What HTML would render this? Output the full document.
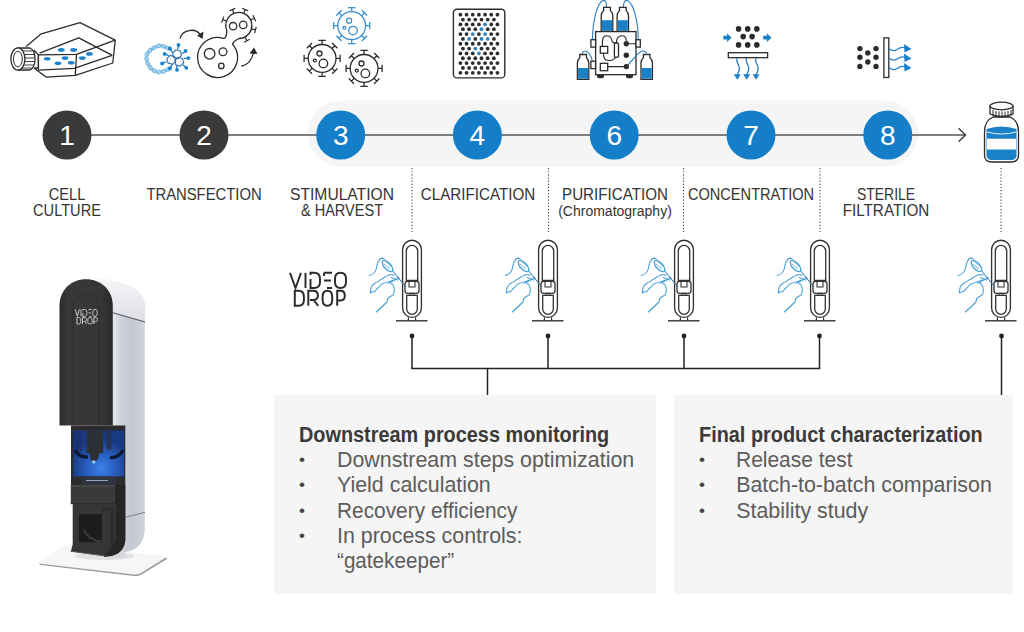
<!DOCTYPE html>
<html><head><meta charset="utf-8">
<style>
html,body{margin:0;padding:0;background:#fff;}
body{width:1024px;height:632px;position:relative;overflow:hidden;font-family:"Liberation Sans",sans-serif;}
.l1{position:absolute;color:#333;font-size:16.4px;line-height:20px;text-align:center;white-space:nowrap;transform-origin:50% 0;}
.box{position:absolute;background:#f5f5f5;}
.hd{position:absolute;font-size:21.6px;font-weight:bold;color:#3a3a3a;white-space:nowrap;line-height:25px;transform:scaleX(0.92);transform-origin:0 0;}
.it{position:absolute;margin-top:1.2px;margin-left:1.2px;font-size:21.4px;color:#5c5c5c;white-space:nowrap;line-height:25px;}
.bu{position:absolute;font-size:17px;color:#444;line-height:25px;}
svg{position:absolute;left:0;top:0;}
</style></head><body>
<svg width="1024" height="632" viewBox="0 0 1024 632">

  <!-- device photo -->
  <defs>
    <linearGradient id="sideG" x1="113" y1="0" x2="146" y2="0" gradientUnits="userSpaceOnUse">
      <stop offset="0" stop-color="#e6e8ec"/>
      <stop offset="0.18" stop-color="#d2d4dc"/>
      <stop offset="0.55" stop-color="#c5c7d2"/>
      <stop offset="0.9" stop-color="#ced0d9"/>
      <stop offset="1" stop-color="#dfe1e6"/>
    </linearGradient>
    <linearGradient id="topG" x1="0" y1="278" x2="0" y2="320" gradientUnits="userSpaceOnUse">
      <stop offset="0" stop-color="#f6f6f8"/>
      <stop offset="1" stop-color="#dfe0e6"/>
    </linearGradient>
    <radialGradient id="blueG" cx="101" cy="468" r="30" gradientUnits="userSpaceOnUse">
      <stop offset="0" stop-color="#3c82ea"/>
      <stop offset="0.45" stop-color="#2a60c4"/>
      <stop offset="1" stop-color="#173a82"/>
    </radialGradient>
    <linearGradient id="panelG" x1="60" y1="0" x2="112" y2="0" gradientUnits="userSpaceOnUse">
      <stop offset="0" stop-color="#2c2c2c"/>
      <stop offset="0.15" stop-color="#383838"/>
      <stop offset="0.8" stop-color="#363636"/>
      <stop offset="1" stop-color="#2a2a2a"/>
    </linearGradient>
  </defs>
  <g id="device">
    <!-- base plate -->
    <path d="M40,561 Q37.5,562.5 40.5,563.8 L134,574.5 Q138,575 141,573.2 L165,558.5 Q168,556.5 164.5,556 L72,545 Q68,544.5 65,546 Z" fill="#f6f6f7"/>
    <path d="M38.5,562.5 L40.5,565 L134,576 Q138,576.5 141,574.8 L167,559 L166,557.5 L141,573 Q138,574.8 134,574.5 L40.5,563.8 Z" fill="#9a9a9e"/>
    <ellipse cx="105" cy="556" rx="30" ry="4" fill="#e2e2e5"/>
    <rect x="108.5" y="548" width="17" height="10" fill="#d7d8dc"/>
    <!-- white side body -->
    <path d="M92,278 C108,278.5 126,283 136,289.5 C142,294 145,300 145,308 L145,528 C145,542 137,551 125,552 L100,553 L100,278 Z" fill="url(#sideG)"/>
    <path d="M92,278 C108,278.5 126,283 136,289.5 C142,294 145,300 145,308 L145,321.5 L113,312.5 L100,312 L100,278 Z" fill="url(#topG)"/>
    <path d="M113,312.8 L145,322" stroke="#5a5c63" stroke-width="1.1"/>
    <path d="M124.5,517.5 L145,512.3" stroke="#80828a" stroke-width="1"/>
    <!-- black front panel -->
    <path d="M59.5,425.5 L59.5,306 C59.5,290 71,279.3 86,279.3 C101,279.3 112.8,290 112.8,306 L112.8,425.5 Z" fill="url(#panelG)"/>
    <path d="M73,425 L73,308 C73,300 79,294 86,294 C93,294 99,300 99,308 L99,425" fill="none" stroke="#2a2a2a" stroke-width="0.9"/>
    <!-- cavity frame -->
    <rect x="71" y="425.5" width="54.3" height="60" fill="#2c2c2e"/>
    <rect x="73.3" y="430.5" width="50.9" height="46" fill="url(#blueG)"/>
    <path d="M73.3,430.5 L82,430.5 L82,452 Q77,449 73.3,446 Z" fill="#1a3470" opacity="0.8"/>
    <path d="M86.6,430.5 L103.2,430.5 L103.2,453 L98.8,453.5 L98.8,458 Q96,462 93.2,461.5 Q90.5,461 90,458 L90,453.5 L86.6,453 Z" fill="#2e3038"/>
    <rect x="106.5" y="430.5" width="5" height="19" fill="#26324e" opacity="0.9"/>
    <path d="M75,450 Q79,457.5 88,457" stroke="#0e1830" stroke-width="3.2" fill="none"/>
    <path d="M123,450 Q119,458 110,457.5" stroke="#0e1830" stroke-width="3.2" fill="none"/>
    <circle cx="93.8" cy="461.8" r="1.6" fill="#a6d4ff"/>
    <rect x="82" y="476.5" width="34" height="9" fill="#2f3440"/>
    <path d="M86,480.5 L108,480.5" stroke="#8ea2c0" stroke-width="1"/>
    <!-- tray -->
    <path d="M101.8,485 L125.5,485 L125.5,538 Q125.5,552 112,556 L104,557 Z" fill="#262627"/>
    <rect x="70.8" y="485" width="44.3" height="19.1" fill="#3a3a3b"/>
    <rect x="70.8" y="485" width="44.3" height="2.2" fill="#474748"/>
    <path d="M70.8,503.6 L115.1,503.6" stroke="#2a2a2a" stroke-width="1"/>
    <!-- holder -->
    <path d="M72.7,504.1 L115.8,504.1 L115.8,540 L105.6,556 L70.8,551.5 L72.7,544.6 Z" fill="#363637"/>
    <path d="M79,514.2 L101.8,514.2 L101.8,542.1 L79,542.1 Z" fill="#1c1c1d"/>
    <path d="M83.5,530 Q90,541 101.8,541.5" stroke="#3a3a3b" stroke-width="2.2" fill="none"/>
    <path d="M101.8,510 L112,508 L112,548 L104,556" stroke="#2b2b2c" stroke-width="2.5" fill="none"/>
    <path d="M70.8,551.2 L105.6,556" stroke="#59595b" stroke-width="1.1" fill="none"/>
    <!-- logo on panel -->
    <g fill="none" stroke="#d9d9d9" stroke-width="0.9">
      <path d="M75.2,309.5 L77.3,316.3 L79.4,309.5 M81,309.5 L81,316.3 M82.8,310.5 L82.8,309.5 L84.5,309.5 C86.2,309.5 86.8,310.5 86.8,312.5 L86.8,313.3 C86.8,315.3 86.2,316.3 84.5,316.3 L82.8,316.3 L82.8,313 M88.5,309.5 L91.5,309.5 M88.5,312.9 L91,312.9 M89.5,316.3 L91.5,316.3 M95,309.5 C96.6,309.5 97.2,310.5 97.2,312.5 L97.2,313.3 C97.2,315.3 96.6,316.3 95,316.3 C93.4,316.3 92.8,315.3 92.8,313.3 L92.8,312.5 C92.8,310.5 93.4,309.5 95,309.5 Z"/>
      <path d="M77,317.5 L78.5,317.5 C80.2,317.5 80.8,318.5 80.8,320.5 L80.8,321.3 C80.8,323.3 80.2,324 78.5,324 L77,324 Z M82.5,324 L82.5,317.5 L84.5,317.5 C86,317.5 86.5,318.3 86.5,319.5 C86.5,320.8 86,321.5 84.5,321.5 L83.5,321.5 M85,321.5 L86.5,324 M90,317.5 C91.6,317.5 92.2,318.5 92.2,320.5 L92.2,321.3 C92.2,323.3 91.6,324 90,324 C88.4,324 87.8,323.3 87.8,321.3 L87.8,320.5 C87.8,318.5 88.4,317.5 90,317.5 Z M93.8,324 L93.8,317.5 L95.5,317.5 C97,317.5 97.5,318.3 97.5,319.6 C97.5,321 97,321.7 95.5,321.7 L93.8,321.7"/>
    </g>
  </g>
  <defs>
    <g id="cap">
      <rect x="-9.4" y="240.2" width="18.8" height="77.2" rx="9.4" fill="#fff" stroke="#333" stroke-width="1.35"/>
      <path d="M-5.7,280.5 L-5.7,251 A5.7,5.7 0 0 1 5.7,251 L5.7,280.5 Z" fill="#fff" stroke="#333" stroke-width="1.3"/>
      <rect x="-7" y="281.3" width="14" height="12" rx="2.5" fill="#fff" stroke="#333" stroke-width="1.3"/>
      <path d="M-3,281.3 L-3,287 L3,287 L3,281.3" fill="none" stroke="#333" stroke-width="1.1"/>
      <rect x="-2" y="293.3" width="4" height="2" fill="none" stroke="#333" stroke-width="1"/>
      <path d="M-5.3,295.3 L5.3,295.3 L5.3,309 A5.3,5.3 0 0 1 -5.3,309 Z" fill="#fff" stroke="#333" stroke-width="1.3"/>
      <path d="M-3.6,317.3 L-3.6,320.6 M3.6,317.3 L3.6,320.6" stroke="#333" stroke-width="1.2"/>
      <line x1="-16" y1="320.8" x2="15.5" y2="320.8" stroke="#333" stroke-width="1.4"/>
      <g fill="none" stroke="#4aa0d6" stroke-width="1.1" stroke-linecap="round" stroke-linejoin="round" transform="translate(3,0)">
        <path d="M-45.8,275.5 C-42,274.5 -39.5,272.5 -38.8,269 C-38,265 -37,260.5 -34.5,258.5 C-33,257.8 -31.5,258.3 -30.5,259"/>
        <ellipse cx="-27.5" cy="266" rx="7" ry="3.2" transform="rotate(47 -27.5 266)" stroke-width="1.3"/>
        <path d="M-31,264 L-25.5,268.5 M-29,262 L-23.5,266.5" stroke-width="0.8"/>
        <path d="M-22.5,270.5 L-17,277.5"/>
        <path d="M-44.7,292.6 C-44.5,289 -43.5,287 -43.6,286.5 C-42,284.5 -40.5,283.5 -40.2,283.2 C-37,281.5 -35,280 -33.6,279.3 C-30,277 -28,275.5 -26.4,274.9 C-24,274.5 -22.5,274.7 -20.9,274.9"/>
        <path d="M-44.7,292.6 C-42,292 -40.5,291.5 -39.7,291 C-37,288 -35,285.5 -33.6,284.3 C-30,282.5 -27.5,282 -25.9,281.6 C-24,281 -22.5,280.5 -21.4,279.9"/>
        <path d="M-38.6,312 C-34,308 -30,304 -28.1,302 C-27.5,300.5 -27.5,299.5 -27.5,298.7 C-25,296.5 -22.5,295.5 -21.4,294.3 C-20.5,292 -20.5,289.5 -20.9,287.7 C-21.5,286 -22,285 -22.5,284.3 C-23.5,283.5 -24,282.8 -24.7,282.1"/>
        <path d="M-26.4,283.2 L-15.9,277.7 M-23.6,277.7 L-17,279.9"/>
        <path d="M-17,277.5 L-9.5,286.5" stroke="#2f6f9a" stroke-width="1"/>
      </g>
    </g>
  </defs>
  <use href="#cap" x="412"/>
  <use href="#cap" x="548"/>
  <use href="#cap" x="684"/>
  <use href="#cap" x="820"/>
  <use href="#cap" x="1001"/>
  <!-- VIDEO DROP logo -->
  <g fill="none" stroke="#2a2a2a" stroke-width="1.95" stroke-linecap="butt">
    <path d="M290,272.8 L295.5,288 L301,272.8"/>
    <path d="M305.5,272.8 L305.5,288"/>
    <path d="M310.5,275 L310.5,272.8 L314,272.8 C318.5,272.8 320,275 320,279 L320,282 C320,286 318.5,288 314,288 L310.5,288 L310.5,279"/>
    <path d="M324,272.8 L332,272.8 M324,280.4 L331,280.4 M327,288 L332,288 M324,272.8 L324,276"/>
    <path d="M340.5,272.8 C344.5,272.8 346,275 346,279 L346,282 C346,286 344.5,288 340.5,288 C336.5,288 335,286 335,282 L335,279 C335,275 336.5,272.8 340.5,272.8 Z"/>
    <path d="M294.8,290.8 L298.5,290.8 C302.5,290.8 303.9,293 303.9,297 L303.9,300 C303.9,304 302.5,305.8 298.5,305.8 L294.8,305.8 Z"/>
    <path d="M308.3,305.8 L308.3,290.8 L313.2,290.8 C316.6,290.8 317.9,292.5 317.9,295.5 C317.9,298.5 316.6,300 313.2,300 L310,300 M313.6,300 L318.2,305.8"/>
    <path d="M327.4,290.8 C331,290.8 332.2,293 332.2,297 L332.2,300 C332.2,304 331,305.8 327.4,305.8 C323.8,305.8 322.6,304 322.6,300 L322.6,297 C322.6,293 323.8,290.8 327.4,290.8 Z"/>
    <path d="M337.2,305.8 L337.2,290.8 L340.5,290.8 C343.6,290.8 344.8,292.5 344.8,295.8 C344.8,299 343.6,300.5 340.5,300.5 L337.2,300.5"/>
  </g>

  <!-- ICON: flask -->
  <g fill="none" stroke="#2b2b2b" stroke-width="1.3" stroke-linejoin="round">
    <path d="M26.1,46.6 L41.3,33.8 L80,22.6 L115.2,40.2 L112.8,63 L75.3,75.4 L46,77.1 L34.3,68.3" fill="#fff"/>
    <path d="M38.4,54.8 L76.5,54.3 L115.2,40.2"/>
    <path d="M38.4,54.8 L38.4,70.1 M76.5,54.3 L75.3,75.4"/>
    <path d="M39.6,53.1 L78.8,37.9 L112.2,55.4"/>
    <path d="M38.4,70.1 L74.1,68.3 L112.2,55.4"/>
    <path d="M33.7,50 L38.4,54.8 L38.4,68 L33.7,68"/>
    <path d="M17.9,48 L30,48 C34,50 35,56 35,59 C35,63 34,68 30,70 L17.9,70" fill="#fff"/>
    <path d="M21,51 L32,51 M20,54.5 L34,54.5 M20,58 L34.5,58 M20,61.5 L34.5,61.5 M20,65 L34,65 M21,68 L32,68" stroke-width="0.9"/>
    <ellipse cx="17.9" cy="59" rx="7" ry="11.1" fill="#fff"/>
    <ellipse cx="17.9" cy="59" rx="4.4" ry="7.8" stroke-width="1"/>
  </g>
  <g fill="#1a80c8">
    <ellipse cx="61.3" cy="49.9" rx="3.4" ry="1.8"/>
    <ellipse cx="73.6" cy="49.9" rx="3.4" ry="1.8"/>
    <ellipse cx="47.2" cy="58.7" rx="3.4" ry="1.8"/>
    <ellipse cx="65" cy="58.1" rx="3.4" ry="1.8"/>
    <ellipse cx="58" cy="63.3" rx="3.4" ry="1.8"/>
    <ellipse cx="71.2" cy="62.8" rx="3.4" ry="1.8"/>
    <ellipse cx="82.3" cy="58.1" rx="3.4" ry="1.8"/>
    <ellipse cx="89.4" cy="53.9" rx="3.4" ry="1.8"/>
  </g>

  <!-- ICON: transfection -->
  <g fill="none" stroke="#2b2b2b" stroke-width="1.3">
    <path d="M233.68,45.61 A20.0,20.0 0 1 1 222.28,38.05 Q226.70,40.00 226.79,30.47 A13.0,13.0 0 1 1 238.91,38.50 Q230.20,43.00 233.68,45.61 Z" fill="#fff"/>
    <path d="M226.58,21.05 L222.64,19.62 M223.73,16.61 L221.54,22.62 M233.93,13.45 L232.36,9.55 M235.32,8.35 L229.39,10.75 M243.67,13.45 L245.24,9.55 M248.21,10.75 L242.28,8.35 M250.58,20.01 L254.39,18.23 M255.74,21.13 L253.04,15.33 M251.36,28.86 L255.41,29.95 M254.59,33.04 L256.24,26.86 M244.90,36.98 L246.87,40.69 M244.05,42.19 L249.70,39.18 " stroke-width="1.2"/>
    <circle cx="209.6" cy="53.8" r="5.3"/>
    <circle cx="223" cy="51.7" r="3.9"/>
    <circle cx="221.3" cy="65.9" r="2.7"/>
    <circle cx="233.1" cy="26.2" r="3.7"/>
    <circle cx="243.2" cy="24.9" r="3.7"/>
    <path d="M180,38.5 C182,30 195,27 200.5,35"/>
    <path d="M241.2,66 C248,65 252.5,59 253.5,52.5"/>
  </g>
  <g fill="#2b2b2b">
    <path d="M197,35.5 L203.5,31.5 L202.5,39 Z"/>
    <path d="M249.5,53.5 L254,47.5 L257.5,54 Z"/>
  </g>
  <g fill="none" stroke-linecap="round">
    <path d="M169.90,49.20 C168.92,48.75 165.78,47.08 164.00,46.50 C162.22,45.92 161.07,45.37 159.20,45.70 C157.33,46.03 154.67,47.37 152.80,48.50 C150.93,49.63 149.07,51.08 148.00,52.50 C146.93,53.92 146.43,55.17 146.40,57.00 C146.37,58.83 146.85,61.43 147.80,63.50 C148.75,65.57 150.32,67.98 152.10,69.40 C153.88,70.82 156.25,71.80 158.50,72.00 C160.75,72.20 163.70,71.30 165.60,70.60 C167.50,69.90 169.18,68.27 169.90,67.80" stroke="#a9d4ef" stroke-width="3.6"/>
    <path d="M169.90,49.20 L169.83,48.92 L169.75,48.60 L169.66,48.24 L169.55,47.86 L169.41,47.47 L169.23,47.11 L169.01,46.79 L168.74,46.53 L168.41,46.36 L168.03,46.29 L167.59,46.31 L167.11,46.41 L166.59,46.60 L166.07,46.83 L165.54,47.09 L165.04,47.35 L164.57,47.60 L164.15,47.80 L163.79,47.96 L163.47,48.07 L163.17,48.12 L162.88,48.10 L162.62,48.04 L162.40,47.93 L162.20,47.78 L162.02,47.60 L161.86,47.39 L161.72,47.14 L161.58,46.88 L161.44,46.60 L161.29,46.30 L161.13,46.00 L160.95,45.69 L160.74,45.38 L160.50,45.08 L160.24,44.80 L159.94,44.55 L159.62,44.32 L159.27,44.14 L158.90,44.02 L158.52,43.97 L158.14,43.99 L157.78,44.11 L157.45,44.31 L157.15,44.61 L156.88,44.99 L156.65,45.45 L156.45,45.96 L156.28,46.52 L156.13,47.09 L155.98,47.64 L155.83,48.16 L155.65,48.61 L155.45,48.99 L155.20,49.28 L154.92,49.47 L154.59,49.57 L154.21,49.60 L153.81,49.55 L153.38,49.45 L152.93,49.32 L152.45,49.17 L151.95,49.01 L151.44,48.86 L150.94,48.74 L150.46,48.65 L150.01,48.62 L149.59,48.65 L149.22,48.76 L148.90,48.93 L148.64,49.16 L148.43,49.47 L148.29,49.82 L148.20,50.22 L148.16,50.65 L148.16,51.10 L148.19,51.56 L148.26,52.00 L148.35,52.43 L148.44,52.84 L148.54,53.21 L148.62,53.56 L148.69,53.87 L148.75,54.14 L148.78,54.39 L148.79,54.60 L148.77,54.78 L148.72,54.95 L148.64,55.09 L148.52,55.22 L148.37,55.34 L148.19,55.46 L147.98,55.59 L147.73,55.73 L147.45,55.88 L147.15,56.06 L146.83,56.25 L146.50,56.47 L146.16,56.72 L145.83,56.99 L145.51,57.29 L145.22,57.61 L144.97,57.96 L144.78,58.32 L144.66,58.69 L144.63,59.06 L144.69,59.42 L144.85,59.78 L145.10,60.12 L145.43,60.43 L145.84,60.72 L146.31,60.99 L146.81,61.23 L147.33,61.46 L147.83,61.66 L148.30,61.86 L148.72,62.06 L149.06,62.26 L149.33,62.47 L149.52,62.71 L149.64,63.00 L149.68,63.34 L149.64,63.73 L149.54,64.17 L149.38,64.66 L149.19,65.19 L149.00,65.75 L148.81,66.32 L148.67,66.89 L148.58,67.44 L148.58,67.95 L148.67,68.41 L148.85,68.80 L149.14,69.11 L149.51,69.34 L149.95,69.50 L150.45,69.57 L150.99,69.58 L151.54,69.53 L152.08,69.43 L152.60,69.30 L153.10,69.17 L153.57,69.04 L154.00,68.95 L154.39,68.91 L154.73,68.93 L155.02,69.02 L155.27,69.20 L155.49,69.45 L155.68,69.79 L155.87,70.20 L156.05,70.66 L156.24,71.16 L156.45,71.67 L156.68,72.17 L156.95,72.65 L157.25,73.07 L157.59,73.42 L157.95,73.69 L158.34,73.86 L158.77,73.92 L159.20,73.87 L159.62,73.70 L160.03,73.42 L160.41,73.04 L160.76,72.59 L161.08,72.08 L161.38,71.55 L161.66,71.02 L161.93,70.54 L162.20,70.12 L162.49,69.79 L162.79,69.56 L163.12,69.43 L163.47,69.40 L163.84,69.46 L164.24,69.60 L164.65,69.79 L165.06,70.02 L165.47,70.26 L165.89,70.49 L166.32,70.71 L166.77,70.89 L167.23,71.02 L167.66,71.10 L168.08,71.12 L168.45,71.08 L168.79,70.98 L169.07,70.82 L169.31,70.62 L169.49,70.37 L169.63,70.08 L169.73,69.78 L169.80,69.46 L169.84,69.14 L169.86,68.83 L169.87,68.54 L169.88,68.26 L169.88,68.02 L169.90,67.80" stroke="#5aa8d8" stroke-width="0.9"/>
    <path d="M169.90,49.20 L169.64,49.32 L169.33,49.46 L168.99,49.61 L168.61,49.75 L168.22,49.87 L167.82,49.95 L167.44,49.97 L167.08,49.91 L166.76,49.76 L166.47,49.51 L166.23,49.17 L166.02,48.73 L165.84,48.23 L165.68,47.68 L165.53,47.12 L165.37,46.57 L165.19,46.06 L164.99,45.61 L164.77,45.23 L164.53,44.93 L164.31,44.71 L164.09,44.55 L163.85,44.44 L163.59,44.39 L163.32,44.38 L163.04,44.41 L162.74,44.49 L162.44,44.60 L162.13,44.74 L161.82,44.91 L161.52,45.11 L161.23,45.34 L160.96,45.59 L160.71,45.85 L160.47,46.12 L160.25,46.40 L160.05,46.67 L159.86,46.93 L159.68,47.17 L159.50,47.38 L159.31,47.55 L159.09,47.66 L158.84,47.72 L158.55,47.71 L158.20,47.63 L157.82,47.49 L157.38,47.29 L156.90,47.04 L156.40,46.78 L155.87,46.51 L155.34,46.27 L154.81,46.08 L154.32,45.96 L153.86,45.93 L153.45,45.99 L153.09,46.14 L152.79,46.39 L152.55,46.71 L152.36,47.11 L152.22,47.55 L152.11,48.02 L152.04,48.53 L151.98,49.05 L151.93,49.57 L151.88,50.07 L151.82,50.54 L151.74,50.96 L151.63,51.32 L151.49,51.63 L151.30,51.86 L151.07,52.03 L150.79,52.15 L150.47,52.21 L150.11,52.23 L149.72,52.22 L149.30,52.20 L148.87,52.17 L148.43,52.15 L147.99,52.14 L147.56,52.16 L147.15,52.21 L146.77,52.29 L146.42,52.39 L146.11,52.53 L145.83,52.70 L145.59,52.90 L145.40,53.13 L145.25,53.39 L145.15,53.67 L145.10,53.97 L145.10,54.28 L145.15,54.60 L145.25,54.92 L145.39,55.24 L145.58,55.56 L145.80,55.87 L146.06,56.17 L146.35,56.46 L146.66,56.74 L146.97,57.01 L147.29,57.27 L147.59,57.53 L147.87,57.79 L148.10,58.05 L148.28,58.31 L148.39,58.59 L148.42,58.88 L148.36,59.19 L148.23,59.53 L148.03,59.89 L147.77,60.29 L147.46,60.70 L147.14,61.15 L146.82,61.61 L146.52,62.08 L146.27,62.55 L146.09,63.02 L145.99,63.47 L145.99,63.90 L146.08,64.29 L146.26,64.63 L146.53,64.92 L146.89,65.17 L147.34,65.37 L147.86,65.53 L148.43,65.65 L149.02,65.73 L149.61,65.80 L150.18,65.87 L150.69,65.95 L151.14,66.06 L151.51,66.21 L151.79,66.41 L151.99,66.67 L152.11,67.00 L152.17,67.39 L152.17,67.83 L152.15,68.31 L152.13,68.83 L152.12,69.37 L152.14,69.92 L152.20,70.46 L152.31,70.97 L152.47,71.44 L152.68,71.85 L152.96,72.17 L153.30,72.41 L153.68,72.54 L154.11,72.58 L154.57,72.52 L155.05,72.37 L155.53,72.15 L156.01,71.88 L156.48,71.57 L156.92,71.24 L157.33,70.93 L157.71,70.65 L158.06,70.41 L158.37,70.24 L158.66,70.14 L158.92,70.12 L159.19,70.19 L159.48,70.34 L159.81,70.58 L160.18,70.88 L160.58,71.25 L161.01,71.64 L161.47,72.04 L161.95,72.42 L162.43,72.73 L162.91,72.97 L163.37,73.12 L163.80,73.15 L164.19,73.07 L164.55,72.88 L164.86,72.60 L165.12,72.25 L165.36,71.84 L165.55,71.40 L165.73,70.94 L165.88,70.48 L166.00,70.02 L166.10,69.57 L166.19,69.15 L166.28,68.77 L166.39,68.43 L166.51,68.14 L166.67,67.91 L166.86,67.74 L167.08,67.61 L167.34,67.53 L167.62,67.49 L167.92,67.48 L168.23,67.49 L168.55,67.53 L168.86,67.57 L169.16,67.63 L169.44,67.68 L169.69,67.74 L169.90,67.80" stroke="#5aa8d8" stroke-width="0.9"/>
  </g>
  <g fill="none" stroke="#1a80c8" stroke-width="1.1">
    <path d="M175.74,61.09 L172.49,64.34 L168.05,63.15 L166.86,58.71 L170.11,55.46 L174.55,56.65 Z M181.44,55.39 L178.19,58.64 L173.75,57.45 L172.56,53.01 L175.81,49.76 L180.25,50.95 Z M183.64,62.89 L180.39,66.14 L175.95,64.95 L174.76,60.51 L178.01,57.26 L182.45,58.45 Z " stroke="#2a6fa8"/>
    <path d="M178.50,45.00 L177.62,49.41 M185.60,51.00 L182.04,53.76 M188.40,58.10 L183.90,58.28 M186.30,67.80 L182.92,64.83 M177.00,69.90 L176.52,65.43 M169.90,68.50 L172.20,64.63 M162.10,63.50 L166.34,61.98 M164.60,53.90 L168.75,55.64 M169.90,48.50 L172.17,52.39 " stroke-width="1.3"/>
  </g>
  <g fill="#1a80c8"><circle cx="178.5" cy="45" r="1.9"/><circle cx="185.6" cy="51" r="1.9"/><circle cx="188.4" cy="58.1" r="1.9"/><circle cx="186.3" cy="67.8" r="1.9"/><circle cx="177" cy="69.9" r="1.9"/><circle cx="169.9" cy="68.5" r="1.9"/><circle cx="162.1" cy="63.5" r="1.9"/><circle cx="164.6" cy="53.9" r="1.9"/><circle cx="169.9" cy="48.5" r="1.9"/></g>
  <!-- ICON: viruses -->
  <g fill="none" stroke="#3a8fcf" stroke-width="1.3"><circle cx="351.7" cy="25.6" r="13.9"/><path d="M365.60,25.60 L369.70,25.60 M369.70,29.30 L369.70,21.90 M361.53,35.43 L364.43,38.33 M361.81,40.94 L367.04,35.71 M351.70,39.50 L351.70,43.60 M348.00,43.60 L355.40,43.60 M341.87,35.43 L338.97,38.33 M336.36,35.71 L341.59,40.94 M337.80,25.60 L333.70,25.60 M333.70,21.90 L333.70,29.30 M341.87,15.77 L338.97,12.87 M341.59,10.26 L336.36,15.49 M351.70,11.70 L351.70,7.60 M355.40,7.60 L348.00,7.60 M361.53,15.77 L364.43,12.87 M367.04,15.49 L361.81,10.26 "/><circle cx="349.10" cy="20.70" r="2.5"/><circle cx="344.40" cy="27.80" r="1.5"/><circle cx="353.00" cy="30.60" r="4.3"/></g><g fill="none" stroke="#2b2b2b" stroke-width="1.3"><circle cx="322.1" cy="58.4" r="13.9"/><path d="M336.00,58.40 L340.10,58.40 M340.10,62.10 L340.10,54.70 M331.93,68.23 L334.83,71.13 M332.21,73.74 L337.44,68.51 M322.10,72.30 L322.10,76.40 M318.40,76.40 L325.80,76.40 M312.27,68.23 L309.37,71.13 M306.76,68.51 L311.99,73.74 M308.20,58.40 L304.10,58.40 M304.10,54.70 L304.10,62.10 M312.27,48.57 L309.37,45.67 M311.99,43.06 L306.76,48.29 M322.10,44.50 L322.10,40.40 M325.80,40.40 L318.40,40.40 M331.93,48.57 L334.83,45.67 M337.44,48.29 L332.21,43.06 "/><circle cx="319.50" cy="53.50" r="2.5"/><circle cx="314.80" cy="60.60" r="1.5"/><circle cx="323.40" cy="63.40" r="4.3"/></g><g fill="none" stroke="#2b2b2b" stroke-width="1.3"><circle cx="364.1" cy="68.4" r="13.9"/><path d="M378.00,68.40 L382.10,68.40 M382.10,72.10 L382.10,64.70 M373.93,78.23 L376.83,81.13 M374.21,83.74 L379.44,78.51 M364.10,82.30 L364.10,86.40 M360.40,86.40 L367.80,86.40 M354.27,78.23 L351.37,81.13 M348.76,78.51 L353.99,83.74 M350.20,68.40 L346.10,68.40 M346.10,64.70 L346.10,72.10 M354.27,58.57 L351.37,55.67 M353.99,53.06 L348.76,58.29 M364.10,54.50 L364.10,50.40 M367.80,50.40 L360.40,50.40 M373.93,58.57 L376.83,55.67 M379.44,58.29 L374.21,53.06 "/><circle cx="361.50" cy="63.50" r="2.5"/><circle cx="356.80" cy="70.60" r="1.5"/><circle cx="365.40" cy="73.40" r="4.3"/></g>
  <!-- ICON: plate -->
  <rect x="453.4" y="9.2" width="51.4" height="68.7" rx="3.5" fill="#fff" stroke="#2b2b2b" stroke-width="1.4"/><circle cx="460.40" cy="14.70" r="1.9" fill="#2e2e2e"/><circle cx="466.57" cy="14.70" r="1.9" fill="#2e2e2e"/><circle cx="472.74" cy="14.70" r="1.9" fill="#2e2e2e"/><circle cx="478.91" cy="14.70" r="1.9" fill="#2e2e2e"/><circle cx="485.08" cy="14.70" r="1.9" fill="#2e2e2e"/><circle cx="491.25" cy="14.70" r="1.9" fill="#2e2e2e"/><circle cx="497.42" cy="14.70" r="1.9" fill="#2e2e2e"/><circle cx="462.90" cy="19.54" r="1.9" fill="#2e2e2e"/><circle cx="469.10" cy="19.54" r="1.9" fill="#2e2e2e"/><circle cx="475.30" cy="19.54" r="1.9" fill="#2e2e2e"/><circle cx="481.50" cy="19.54" r="1.9" fill="#2e2e2e"/><circle cx="487.70" cy="19.54" r="1.9" fill="#2e2e2e"/><circle cx="493.90" cy="19.54" r="1.9" fill="#2e2e2e"/><circle cx="460.40" cy="24.38" r="1.9" fill="#2e2e2e"/><circle cx="466.57" cy="24.38" r="1.9" fill="#2e2e2e"/><circle cx="472.74" cy="24.38" r="1.9" fill="#2e2e2e"/><circle cx="478.91" cy="24.38" r="1.9" fill="#2e2e2e"/><circle cx="485.08" cy="24.38" r="1.9" fill="#3282be"/><circle cx="491.25" cy="24.38" r="1.9" fill="#2e2e2e"/><circle cx="497.42" cy="24.38" r="1.9" fill="#2e2e2e"/><circle cx="462.90" cy="29.22" r="1.9" fill="#2e2e2e"/><circle cx="469.10" cy="29.22" r="1.9" fill="#2e2e2e"/><circle cx="475.30" cy="29.22" r="1.9" fill="#2e2e2e"/><circle cx="481.50" cy="29.22" r="1.9" fill="#3282be"/><circle cx="487.70" cy="29.22" r="1.9" fill="#2e2e2e"/><circle cx="493.90" cy="29.22" r="1.9" fill="#2e2e2e"/><circle cx="460.40" cy="34.06" r="1.9" fill="#2e2e2e"/><circle cx="466.57" cy="34.06" r="1.9" fill="#2e2e2e"/><circle cx="472.74" cy="34.06" r="1.9" fill="#3282be"/><circle cx="478.91" cy="34.06" r="1.9" fill="#2e2e2e"/><circle cx="485.08" cy="34.06" r="1.9" fill="#3282be"/><circle cx="491.25" cy="34.06" r="1.9" fill="#2e2e2e"/><circle cx="497.42" cy="34.06" r="1.9" fill="#2e2e2e"/><circle cx="462.90" cy="38.90" r="1.9" fill="#2e2e2e"/><circle cx="469.10" cy="38.90" r="1.9" fill="#3282be"/><circle cx="475.30" cy="38.90" r="1.9" fill="#2e2e2e"/><circle cx="481.50" cy="38.90" r="1.9" fill="#3282be"/><circle cx="487.70" cy="38.90" r="1.9" fill="#3282be"/><circle cx="493.90" cy="38.90" r="1.9" fill="#2e2e2e"/><circle cx="460.40" cy="43.74" r="1.9" fill="#2e2e2e"/><circle cx="466.57" cy="43.74" r="1.9" fill="#2e2e2e"/><circle cx="472.74" cy="43.74" r="1.9" fill="#2e2e2e"/><circle cx="478.91" cy="43.74" r="1.9" fill="#2e2e2e"/><circle cx="485.08" cy="43.74" r="1.9" fill="#2e2e2e"/><circle cx="491.25" cy="43.74" r="1.9" fill="#2e2e2e"/><circle cx="497.42" cy="43.74" r="1.9" fill="#2e2e2e"/><circle cx="462.90" cy="48.58" r="1.9" fill="#2e2e2e"/><circle cx="469.10" cy="48.58" r="1.9" fill="#2e2e2e"/><circle cx="475.30" cy="48.58" r="1.9" fill="#3282be"/><circle cx="481.50" cy="48.58" r="1.9" fill="#2e2e2e"/><circle cx="487.70" cy="48.58" r="1.9" fill="#2e2e2e"/><circle cx="493.90" cy="48.58" r="1.9" fill="#2e2e2e"/><circle cx="460.40" cy="53.42" r="1.9" fill="#2e2e2e"/><circle cx="466.57" cy="53.42" r="1.9" fill="#2e2e2e"/><circle cx="472.74" cy="53.42" r="1.9" fill="#2e2e2e"/><circle cx="478.91" cy="53.42" r="1.9" fill="#3282be"/><circle cx="485.08" cy="53.42" r="1.9" fill="#2e2e2e"/><circle cx="491.25" cy="53.42" r="1.9" fill="#2e2e2e"/><circle cx="497.42" cy="53.42" r="1.9" fill="#2e2e2e"/><circle cx="462.90" cy="58.26" r="1.9" fill="#2e2e2e"/><circle cx="469.10" cy="58.26" r="1.9" fill="#2e2e2e"/><circle cx="475.30" cy="58.26" r="1.9" fill="#2e2e2e"/><circle cx="481.50" cy="58.26" r="1.9" fill="#2e2e2e"/><circle cx="487.70" cy="58.26" r="1.9" fill="#2e2e2e"/><circle cx="493.90" cy="58.26" r="1.9" fill="#2e2e2e"/><circle cx="460.40" cy="63.10" r="1.9" fill="#2e2e2e"/><circle cx="466.57" cy="63.10" r="1.9" fill="#2e2e2e"/><circle cx="472.74" cy="63.10" r="1.9" fill="#2e2e2e"/><circle cx="478.91" cy="63.10" r="1.9" fill="#2e2e2e"/><circle cx="485.08" cy="63.10" r="1.9" fill="#2e2e2e"/><circle cx="491.25" cy="63.10" r="1.9" fill="#2e2e2e"/><circle cx="497.42" cy="63.10" r="1.9" fill="#2e2e2e"/><circle cx="462.90" cy="67.94" r="1.9" fill="#2e2e2e"/><circle cx="469.10" cy="67.94" r="1.9" fill="#2e2e2e"/><circle cx="475.30" cy="67.94" r="1.9" fill="#2e2e2e"/><circle cx="481.50" cy="67.94" r="1.9" fill="#2e2e2e"/><circle cx="487.70" cy="67.94" r="1.9" fill="#2e2e2e"/><circle cx="493.90" cy="67.94" r="1.9" fill="#2e2e2e"/><circle cx="460.40" cy="72.78" r="1.9" fill="#2e2e2e"/><circle cx="466.57" cy="72.78" r="1.9" fill="#2e2e2e"/><circle cx="472.74" cy="72.78" r="1.9" fill="#2e2e2e"/><circle cx="478.91" cy="72.78" r="1.9" fill="#2e2e2e"/><circle cx="485.08" cy="72.78" r="1.9" fill="#2e2e2e"/><circle cx="491.25" cy="72.78" r="1.9" fill="#2e2e2e"/><circle cx="497.42" cy="72.78" r="1.9" fill="#2e2e2e"/>

  <!-- ICON: chromatography -->
  <g fill="none" stroke="#2a7fc0" stroke-width="1.1">
    <path d="M592.5,39.7 C592.5,22 597,3 603,0.5 C606,-0.5 606.5,3 606.5,7.4"/>
    <path d="M638.3,39.7 C638.3,22 633.5,3 627.5,0.5 C624.5,-0.5 623.5,3 623.3,7.4"/>
    <path d="M592.5,61.5 C591,55 588,51 584.5,51 C582.5,51 582.5,53 582.6,55"/>
  </g>
  <g stroke="#2b2b2b" stroke-width="1.3" fill="#fff">
    <path d="M603.6,7.4 L610.4,7.4 L610.4,10.8 C612,12 612.8,14 612.8,16 L612.8,31.5 L601.2,31.5 L601.2,16 C601.2,14 602,12 603.6,10.8 Z"/>
    <path d="M619.5,7.4 L626.2,7.4 L626.2,10.8 C627.8,12 628.5,14 628.5,16 L628.5,31.5 L617.1,31.5 L617.1,16 C617.1,14 617.9,12 619.5,10.8 Z"/>
    <path d="M579.8,54.5 L586.5,54.5 L586.5,57.7 C588,59 588.8,61 588.8,63 L588.8,79.4 L577.4,79.4 L577.4,63 C577.4,61 578.2,59 579.8,57.7 Z"/>
    <path d="M643.4,54.5 L650,54.5 L650,57.7 C651.6,59 652.4,61 652.4,63 L652.4,79.4 L641,79.4 L641,63 C641,61 641.8,59 643.4,57.7 Z"/>
  </g>
  <g fill="#1a80c8">
    <rect x="601.9" y="20.2" width="10.2" height="10.6"/>
    <rect x="617.8" y="20.2" width="10" height="10.6"/>
    <rect x="578.1" y="68" width="10" height="10.7"/>
    <rect x="641.7" y="68" width="10" height="10.7"/>
  </g>
  <g stroke="#2b2b2b" stroke-width="1.3" fill="#fff">
    <rect x="595.6" y="31.6" width="40.4" height="43.1"/>
    <rect x="590.9" y="39.7" width="4.7" height="7.4"/>
    <rect x="590.9" y="61.2" width="4.7" height="7.4"/>
    <rect x="636" y="39.7" width="4.3" height="7.4"/>
    <rect x="600.3" y="46.4" width="7.4" height="6.8"/>
    <rect x="600.3" y="63.3" width="7.4" height="7.4"/>
    <rect x="614.4" y="43" width="4.1" height="14.2" rx="1"/>
  </g>
  <g fill="none" stroke="#2b2b2b" stroke-width="1.1">
    <path d="M602.5,46.4 C602,40 602.5,36 606.5,35.8 C610.5,35.6 611.5,38 612,41 C612.5,43 615,43 616.4,43"/>
    <path d="M616.4,43 C616.4,38 619,35.7 622,35.7 C625.5,35.7 626.3,38 626.3,41"/>
    <path d="M603.5,53.2 C603.5,58 605,60.5 608,60.5 C612,60.5 613,60 616.4,57.2"/>
    <path d="M626.3,43.7 L636,43.7 M607.7,66.6 L623.8,66.6"/>
    <path d="M627,66 C633,60 638,51.5 642.5,51 C645.5,50.8 646.8,52.5 647,55" stroke="#2a7fc0"/>
  </g>
  <g fill="#2b2b2b">
    <circle cx="626.3" cy="43.7" r="2.7"/>
    <circle cx="626.3" cy="55.2" r="2.7"/>
    <circle cx="626.3" cy="66.6" r="2.7"/>
    <path d="M597,74.7 L604,74.7 L604,76.5 Q604,78.3 602,78.3 L599,78.3 Q597,78.3 597,76.5 Z"/>
    <path d="M626,74.7 L633,74.7 L633,76.5 Q633,78.3 631,78.3 L628,78.3 Q626,78.3 626,76.5 Z"/>
  </g>
  <!-- ICON: concentration filter -->
  <g fill="#2b2b2b">
    <circle cx="738.6" cy="28.9" r="2.8"/><circle cx="747.7" cy="28.9" r="2.8"/><circle cx="756.8" cy="28.9" r="2.8"/>
    <circle cx="743.2" cy="36.6" r="2.8"/><circle cx="752.1" cy="36.6" r="2.8"/>
    <circle cx="738.6" cy="44.9" r="2.8"/><circle cx="747.7" cy="44.9" r="2.8"/><circle cx="756.8" cy="44.9" r="2.8"/>
  </g>
  <g fill="#1a80c8">
    <path d="M723.3,35.8 L727,35.8 L727,33.3 L731.6,37.7 L727,42.1 L727,39.6 L723.3,39.6 Z"/>
    <path d="M763.2,35.8 L766.9,35.8 L766.9,33.3 L771.5,37.7 L766.9,42.1 L766.9,39.6 L763.2,39.6 Z"/>
  </g>
  <rect x="728.3" y="52.7" width="39.3" height="5" fill="#fff" stroke="#2b2b2b" stroke-width="1.3"/>
  <g fill="none" stroke="#2a7fc0" stroke-width="1.3">
    <path d="M737.3,58 C734.8,62 740.8,65.5 739.3,70 C738.5,72.5 737.5,73.5 737.3,75.5"/>
    <path d="M746.7,58 C744.2,62 750.2,65.5 748.7,70 C747.9,72.5 746.9,73.5 746.7,75.5"/>
    <path d="M756.1,58 C753.6,62 759.6,65.5 758.1,70 C757.3,72.5 756.3,73.5 756.1,75.5"/>
  </g>
  <g fill="#1a80c8">
    <path d="M733.8,74.2 L740.8,74.2 L737.3,79.8 Z"/>
    <path d="M743.2,74.2 L750.2,74.2 L746.7,79.8 Z"/>
    <path d="M752.6,74.2 L759.6,74.2 L756.1,79.8 Z"/>
  </g>
  <!-- ICON: sterile filtration -->
  <g fill="#2b2b2b">
    <circle cx="859.9" cy="48.6" r="2.7"/><circle cx="859.9" cy="57.3" r="2.7"/><circle cx="859.9" cy="66.4" r="2.7"/>
    <circle cx="867.8" cy="52.9" r="2.7"/><circle cx="867.8" cy="62" r="2.7"/>
    <circle cx="876" cy="48.6" r="2.7"/><circle cx="876" cy="57.3" r="2.7"/><circle cx="876" cy="66.4" r="2.7"/>
  </g>
  <rect x="883.9" y="37.9" width="4.9" height="39.6" fill="#fff" stroke="#2b2b2b" stroke-width="1.3"/>
  <g fill="none" stroke="#2a7fc0" stroke-width="1.2">
    <path d="M889,48.5 C892,51 894,51.5 897,49.5 C900,47.5 903,46.5 906.5,48.5"/>
    <path d="M889,58 C892,60.5 894,61 897,59 C900,57 903,56 906.5,58"/>
    <path d="M889,67.5 C892,70 894,70.5 897,68.5 C900,66.5 903,65.5 906.5,67.5"/>
  </g>
  <g fill="#1a80c8">
    <path d="M904,44 L911.5,49 L904.5,52.5 Z"/>
    <path d="M904,53.5 L911.5,58.5 L904.5,62 Z"/>
    <path d="M904,63 L911.5,68 L904.5,71.5 Z"/>
  </g>
  <!-- ICON: bottle -->
  <g stroke="#2b2b2b" stroke-width="1.3">
    <path d="M993,117 C986,120 984.5,126 984.5,132 L984.5,155 C984.5,159.5 987.5,162 992,162 L1011,162 C1015.5,162 1018.5,159.5 1018.5,155 L1018.5,132 C1018.5,126 1017,120 1010,117 Z" fill="#fff"/>
  </g>
  <path d="M986.5,129 Q1001.5,124 1016.5,129 L1016.5,155 C1016.5,158 1014.5,160 1011,160 L992,160 C988.5,160 986.5,158 986.5,155 Z" fill="#1a80c8"/>
  <path d="M987,132 Q1001.5,136 1016,132" fill="none" stroke="#fff" stroke-width="0.9"/>
  <rect x="987" y="138.7" width="29" height="10.8" fill="#fff"/>
  <g stroke="#2b2b2b" stroke-width="1.3" fill="#fff">
    <path d="M990,106 L990,114 Q1001.5,119 1013,114 L1013,106"/>
    <ellipse cx="1001.5" cy="106" rx="11.5" ry="3.8"/>
  </g>
  <path d="M993,110 L993,116 M996,111 L996,117 M999,111.5 L999,117.5 M1002,111.5 L1002,117.5 M1005,111.5 L1005,117.5 M1008,111 L1008,117 M1011,110 L1011,116" stroke="#2b2b2b" stroke-width="1"/>
  <!-- pill background -->
  <rect x="308" y="100.5" width="610" height="66.3" rx="33.15" fill="#f5f5f5"/>
  <!-- timeline -->
  <line x1="67" y1="135" x2="966" y2="135" stroke="#555" stroke-width="1.6"/>
  <polyline points="958.5,128.3 965.5,135 958.5,141.7" fill="none" stroke="#3a3a3a" stroke-width="1.35"/>
  <g fill="#3a3a3a">
    <circle cx="67" cy="135" r="24.5"/>
    <circle cx="204" cy="135" r="24.5"/>
  </g>
  <g fill="#147ec8">
    <circle cx="340.7" cy="135" r="24.5"/>
    <circle cx="477.4" cy="135" r="24.5"/>
    <circle cx="614.2" cy="135" r="24.5"/>
    <circle cx="751" cy="135" r="24.5"/>
    <circle cx="887.8" cy="135" r="24.5"/>
  </g>
  <g fill="#fff" font-family="Liberation Sans" font-size="28" text-anchor="middle">
    <text x="67" y="145.3">1</text>
    <text x="204" y="145.3">2</text>
    <text x="340.7" y="145.3">3</text>
    <text x="477.4" y="145.3">4</text>
    <text x="614.2" y="145.3">6</text>
    <text x="751" y="145.3">7</text>
    <text x="887.8" y="145.3">8</text>
  </g>
  <!-- dotted lines -->
  <g stroke="#444" stroke-width="1.1" stroke-dasharray="1.2 1.95">
    <line x1="412" y1="168" x2="412" y2="232"/>
    <line x1="548.5" y1="168" x2="548.5" y2="232"/>
    <line x1="683.5" y1="168" x2="683.5" y2="232"/>
    <line x1="820" y1="168" x2="820" y2="232"/>
    <line x1="1001" y1="168" x2="1001" y2="232"/>
  </g>
  <!-- connectors -->
  <g stroke="#222" stroke-width="1.5" fill="none">
    <line x1="412" y1="336" x2="412" y2="368.5"/>
    <line x1="548" y1="336" x2="548" y2="368.5"/>
    <line x1="684" y1="336" x2="684" y2="368.5"/>
    <line x1="819.5" y1="336" x2="819.5" y2="368.5"/>
    <line x1="411.3" y1="368.5" x2="820.2" y2="368.5"/>
    <line x1="487.5" y1="368.5" x2="487.5" y2="395"/>
    <line x1="1001.5" y1="336" x2="1001.5" y2="395"/>
  </g>
  <g fill="#222">
    <circle cx="412" cy="336" r="2.4"/>
    <circle cx="548" cy="336" r="2.4"/>
    <circle cx="684" cy="336" r="2.4"/>
    <circle cx="819.5" cy="336" r="2.4"/>
    <circle cx="1001.5" cy="336" r="2.4"/>
  </g>
</svg>
<div class="l1" style="left:67px;top:183.5px;transform:translateX(-50%) scaleX(0.89);">CELL</div>
<div class="l1" style="left:67px;top:200.1px;transform:translateX(-50%) scaleX(0.89);">CULTURE</div>
<div class="l1" style="left:204px;top:183.5px;transform:translateX(-50%) scaleX(0.904);">TRANSFECTION</div>
<div class="l1" style="left:341.7px;top:183.5px;transform:translateX(-50%) scaleX(0.953);">STIMULATION</div>
<div class="l1" style="left:341.7px;top:200.1px;transform:translateX(-50%) scaleX(0.887);">&amp; HARVEST</div>
<div class="l1" style="left:477.6px;top:183.5px;transform:translateX(-50%) scaleX(0.926);">CLARIFICATION</div>
<div class="l1" style="left:615px;top:183.5px;transform:translateX(-50%) scaleX(0.926);">PURIFICATION</div>
<div class="l1" style="left:615px;top:201px;font-size:14px;transform:translateX(-50%) scaleX(1.0);">(Chromatography)</div>
<div class="l1" style="left:751px;top:183.5px;transform:translateX(-50%) scaleX(0.89);">CONCENTRATION</div>
<div class="l1" style="left:885.7px;top:183.5px;transform:translateX(-50%) scaleX(0.852);">STERILE</div>
<div class="l1" style="left:885.7px;top:200.1px;transform:translateX(-50%) scaleX(0.93);">FILTRATION</div>

<div class="box" style="left:274px;top:395px;width:382px;height:198.5px;"></div>
<div class="box" style="left:674px;top:395px;width:339px;height:198.5px;"></div>

<div class="hd" style="left:299px;top:421.8px;">Downstream process monitoring</div>
<div class="bu" style="left:299px;top:447.0px;">•</div><div class="it" style="left:335.8px;top:447.0px;">Downstream steps optimization</div>
<div class="bu" style="left:299px;top:472.3px;">•</div><div class="it" style="left:335.8px;top:472.3px;">Yield calculation</div>
<div class="bu" style="left:299px;top:497.6px;">•</div><div class="it" style="left:335.8px;top:497.6px;transform:scaleX(0.975);transform-origin:0 0;">Recovery efficiency</div>
<div class="bu" style="left:299px;top:522.9px;">•</div><div class="it" style="left:335.8px;top:522.9px;">In process controls:</div>
<div class="it" style="left:335.8px;top:548.2px;transform:scaleX(0.966);transform-origin:0 0;">“gatekeeper”</div>

<div class="hd" style="left:699px;top:421.8px;">Final product characterization</div>
<div class="bu" style="left:699px;top:447.0px;">•</div><div class="it" style="left:735px;top:447.0px;transform:scaleX(0.98);transform-origin:0 0;">Release test</div>
<div class="bu" style="left:699px;top:472.3px;">•</div><div class="it" style="left:735px;top:472.3px;">Batch-to-batch comparison</div>
<div class="bu" style="left:699px;top:497.6px;">•</div><div class="it" style="left:735px;top:497.6px;">Stability study</div>
</body></html>
